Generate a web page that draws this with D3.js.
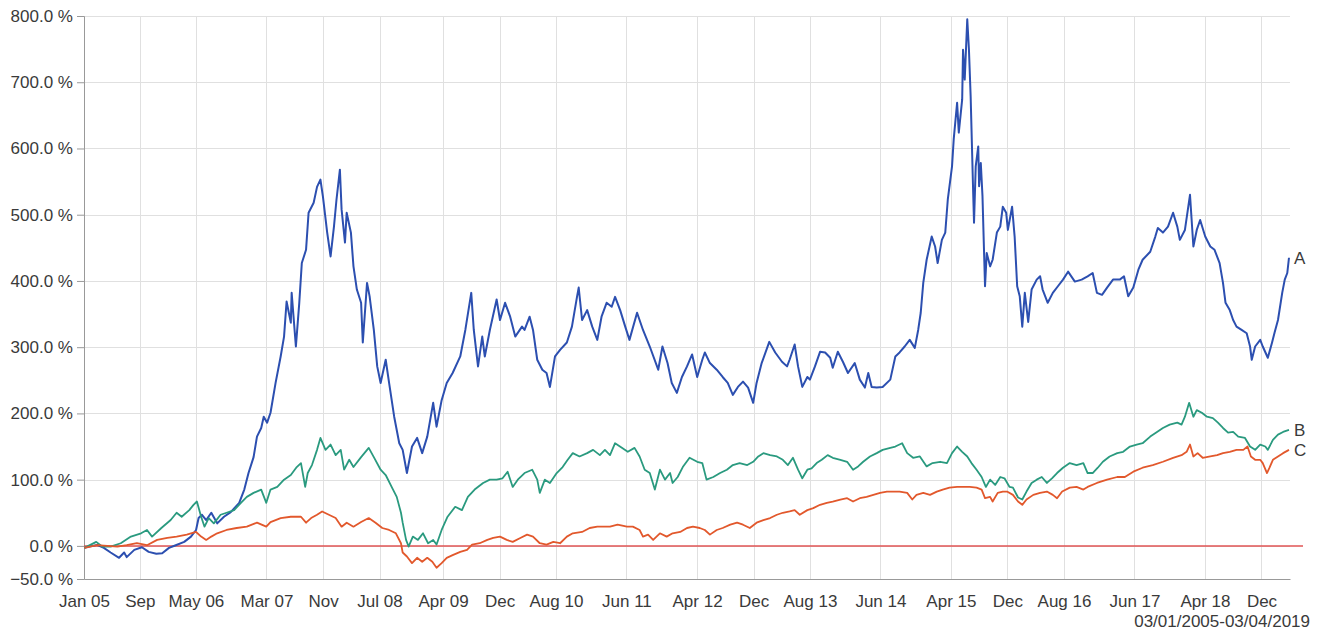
<!DOCTYPE html>
<html><head><meta charset="utf-8">
<script src="https://cdn.jsdelivr.net/npm/d3@7"></script>
<style>
html,body{margin:0;padding:0;background:#fff;}
svg{display:block;font-family:"Liberation Sans",Arial,sans-serif;}
</style></head><body>
<svg id="chart" width="1324" height="637"></svg>
<script>
// ---- DATA (time as decimal years, values in %) ----
const aTimes = [2005.01,2005.16,2005.24,2005.32,2005.42,2005.48,2005.51,2005.60,2005.69,2005.77,2005.86,2005.93,2006.01,2006.09,2006.19,2006.27,2006.33,2006.36,2006.40,2006.45,2006.51,2006.58,2006.66,2006.74,2006.84,2006.90,2006.95,2007.01,2007.05,2007.10,2007.13,2007.17,2007.21,2007.27,2007.33,2007.37,2007.40,2007.45,2007.46,2007.51,2007.55,2007.58,2007.63,2007.66,2007.72,2007.76,2007.80,2007.83,2007.88,2007.92,2007.96,2007.99,2008.03,2008.05,2008.09,2008.11,2008.16,2008.19,2008.23,2008.28,2008.30,2008.35,2008.38,2008.43,2008.47,2008.51,2008.57,2008.61,2008.67,2008.73,2008.77,2008.82,2008.88,2008.94,2009.00,2009.06,2009.13,2009.17,2009.23,2009.29,2009.36,2009.45,2009.51,2009.58,2009.61,2009.66,2009.71,2009.74,2009.80,2009.88,2009.92,2009.98,2010.04,2010.10,2010.18,2010.21,2010.27,2010.31,2010.36,2010.42,2010.47,2010.51,2010.57,2010.63,2010.71,2010.77,2010.83,2010.85,2010.89,2010.95,2011.01,2011.07,2011.12,2011.18,2011.24,2011.28,2011.34,2011.40,2011.45,2011.54,2011.61,2011.69,2011.79,2011.84,2011.90,2011.95,2012.01,2012.07,2012.13,2012.19,2012.25,2012.31,2012.34,2012.40,2012.48,2012.55,2012.61,2012.67,2012.73,2012.79,2012.85,2012.91,2012.95,2013.01,2013.10,2013.17,2013.25,2013.31,2013.34,2013.40,2013.44,2013.49,2013.55,2013.58,2013.64,2013.70,2013.76,2013.82,2013.85,2013.91,2013.97,2014.03,2014.11,2014.17,2014.23,2014.27,2014.31,2014.37,2014.44,2014.53,2014.59,2014.64,2014.70,2014.76,2014.82,2014.86,2014.89,2014.92,2014.96,2015.02,2015.06,2015.09,2015.14,2015.18,2015.21,2015.26,2015.28,2015.32,2015.34,2015.38,2015.39,2015.41,2015.44,2015.46,2015.48,2015.51,2015.52,2015.54,2015.57,2015.58,2015.60,2015.62,2015.65,2015.67,2015.71,2015.74,2015.79,2015.83,2015.86,2015.90,2015.92,2015.97,2016.00,2016.03,2016.06,2016.09,2016.12,2016.16,2016.20,2016.26,2016.30,2016.33,2016.39,2016.45,2016.51,2016.57,2016.63,2016.71,2016.79,2016.86,2016.92,2016.97,2017.03,2017.09,2017.16,2017.24,2017.29,2017.34,2017.40,2017.46,2017.51,2017.60,2017.66,2017.69,2017.75,2017.81,2017.87,2017.92,2017.95,2018.01,2018.07,2018.11,2018.15,2018.19,2018.25,2018.31,2018.36,2018.42,2018.46,2018.49,2018.54,2018.58,2018.62,2018.68,2018.74,2018.78,2018.80,2018.84,2018.90,2018.93,2018.99,2019.04,2019.07,2019.11,2019.16,2019.19,2019.22,2019.24];
const aValues = [-3,1.5,-3,-10,-18,-10,-17,-6,-2,-9,-12,-11,-3,1,6,14,24,42,47,39,50,34,44,51,65,85,110,134,165,178,195,186,201,246,286,316,369,337,382,301,367,427,447,503,518,542,553,527,473,437,482,523,568,508,458,503,473,422,387,367,307,397,377,326,271,246,281,246,195,155,145,110,150,163,140,165,216,180,220,246,261,286,326,382,326,271,316,286,326,372,341,367,346,316,331,326,346,326,281,266,261,240,286,296,307,331,376,390,341,356,331,311,346,367,361,376,356,331,311,352,326,301,266,301,276,246,231,255,271,289,255,281,292,276,266,255,246,228,240,248,239,216,246,276,308,292,278,271,281,304,271,240,255,251,271,293,292,284,269,293,278,261,276,251,239,261,240,239,240,251,286,292,301,311,299,326,352,397,432,467,452,427,462,473,523,573,614,669,624,674,749,704,795,749,679,533,488,573,603,543,578,528,392,442,422,432,473,482,512,503,477,512,467,392,377,331,382,338,387,402,407,387,367,382,392,402,414,399,402,407,412,382,379,390,402,402,407,377,390,417,432,444,467,480,473,482,503,482,462,477,530,452,477,492,467,452,447,427,397,367,356,341,331,326,321,301,281,301,311,301,284,307,322,341,382,402,412,435];

const bTimes = [2005.01,2005.15,2005.22,2005.32,2005.44,2005.56,2005.68,2005.75,2005.81,2005.92,2006.03,2006.10,2006.16,2006.25,2006.30,2006.34,2006.39,2006.43,2006.48,2006.54,2006.62,2006.69,2006.78,2006.86,2006.93,2007.01,2007.10,2007.16,2007.21,2007.29,2007.37,2007.45,2007.52,2007.57,2007.62,2007.65,2007.70,2007.76,2007.80,2007.86,2007.92,2007.98,2008.04,2008.08,2008.14,2008.19,2008.28,2008.37,2008.43,2008.51,2008.57,2008.64,2008.70,2008.75,2008.77,2008.81,2008.84,2008.89,2008.95,2009.01,2009.07,2009.13,2009.17,2009.23,2009.30,2009.39,2009.47,2009.54,2009.62,2009.72,2009.80,2009.88,2009.95,2010.01,2010.07,2010.13,2010.21,2010.30,2010.36,2010.39,2010.45,2010.51,2010.59,2010.66,2010.72,2010.78,2010.86,2010.95,2011.02,2011.10,2011.16,2011.22,2011.28,2011.36,2011.43,2011.51,2011.57,2011.63,2011.69,2011.75,2011.81,2011.87,2011.93,2011.96,2012.02,2012.08,2012.16,2012.25,2012.31,2012.36,2012.44,2012.52,2012.60,2012.67,2012.75,2012.84,2012.91,2012.97,2013.03,2013.11,2013.19,2013.26,2013.32,2013.38,2013.44,2013.49,2013.55,2013.60,2013.66,2013.72,2013.79,2013.85,2013.94,2014.02,2014.09,2014.15,2014.21,2014.29,2014.37,2014.44,2014.53,2014.59,2014.67,2014.73,2014.80,2014.88,2014.96,2015.03,2015.12,2015.20,2015.26,2015.32,2015.38,2015.44,2015.49,2015.55,2015.61,2015.66,2015.71,2015.77,2015.83,2015.88,2015.94,2015.98,2016.04,2016.09,2016.14,2016.20,2016.26,2016.32,2016.38,2016.44,2016.50,2016.57,2016.65,2016.73,2016.81,2016.86,2016.92,2016.98,2017.04,2017.12,2017.21,2017.28,2017.36,2017.44,2017.51,2017.60,2017.68,2017.75,2017.83,2017.92,2017.97,2018.01,2018.06,2018.11,2018.15,2018.21,2018.27,2018.34,2018.40,2018.46,2018.52,2018.58,2018.64,2018.72,2018.78,2018.84,2018.90,2018.96,2018.99,2019.05,2019.11,2019.17,2019.24];
const bValues = [-3,6,-1,-1,4,14,19,24,14,27,39,50,44,54,62,67,44,29,42,34,47,50,54,65,74,80,85,65,85,89,100,107,119,125,89,110,122,145,163,145,153,137,145,115,130,119,134,148,134,115,107,89,74,50,35,9,-1,14,9,19,4,9,2,24,44,59,54,74,85,95,100,100,102,112,89,100,110,115,100,80,100,95,110,119,130,140,135,140,145,137,145,137,155,148,142,148,135,115,110,85,115,100,110,95,104,119,133,127,125,100,104,110,115,122,125,122,127,135,140,137,135,130,122,133,115,102,115,117,125,130,137,133,130,127,115,120,127,135,140,145,148,150,155,140,133,135,120,125,127,125,140,150,142,135,125,115,104,89,100,92,104,102,89,88,73,70,82,95,100,104,95,102,110,118,125,122,125,110,110,118,127,135,140,142,150,153,155,165,172,178,183,186,183,195,216,195,205,201,195,193,186,178,171,172,165,163,150,145,153,150,145,160,168,172,175];

const cTimes = [2005.01,2005.16,2005.28,2005.40,2005.51,2005.63,2005.75,2005.87,2005.99,2006.10,2006.22,2006.33,2006.39,2006.45,2006.51,2006.58,2006.69,2006.81,2006.93,2007.05,2007.16,2007.21,2007.33,2007.45,2007.57,2007.63,2007.69,2007.76,2007.82,2007.90,2007.98,2008.05,2008.11,2008.19,2008.28,2008.37,2008.45,2008.53,2008.61,2008.69,2008.75,2008.77,2008.82,2008.88,2008.94,2009.00,2009.06,2009.12,2009.17,2009.23,2009.29,2009.36,2009.45,2009.53,2009.59,2009.68,2009.77,2009.84,2009.92,2010.00,2010.07,2010.16,2010.24,2010.31,2010.39,2010.47,2010.55,2010.63,2010.71,2010.78,2010.89,2010.98,2011.07,2011.14,2011.22,2011.31,2011.42,2011.49,2011.57,2011.61,2011.67,2011.73,2011.81,2011.89,2011.96,2012.05,2012.13,2012.20,2012.28,2012.34,2012.40,2012.48,2012.55,2012.64,2012.72,2012.79,2012.87,2012.95,2013.03,2013.11,2013.19,2013.26,2013.34,2013.40,2013.46,2013.55,2013.62,2013.70,2013.78,2013.85,2013.94,2014.02,2014.09,2014.17,2014.25,2014.33,2014.41,2014.49,2014.56,2014.64,2014.73,2014.79,2014.84,2014.92,2015.00,2015.08,2015.15,2015.23,2015.32,2015.39,2015.47,2015.55,2015.61,2015.65,2015.71,2015.74,2015.80,2015.86,2015.91,2015.98,2016.04,2016.09,2016.14,2016.22,2016.30,2016.38,2016.45,2016.50,2016.56,2016.65,2016.73,2016.81,2016.86,2016.97,2017.09,2017.21,2017.30,2017.40,2017.51,2017.63,2017.75,2017.87,2017.97,2018.03,2018.07,2018.11,2018.16,2018.22,2018.31,2018.39,2018.46,2018.54,2018.62,2018.70,2018.75,2018.79,2018.84,2018.90,2018.93,2018.98,2019.01,2019.05,2019.11,2019.17,2019.24];
const cValues = [-3,1,0,-1,1,4,1,9,12,14,17,21,14,9,14,19,24,27,29,35,29,36,42,44,44,35,42,47,52,47,42,29,35,29,36,42,35,27,24,19,4,-10,-16,-26,-18,-24,-18,-24,-33,-26,-18,-14,-9,-6,2,4,9,12,14,9,6,12,17,14,4,2,6,4,14,19,21,27,29,29,29,32,29,29,24,14,17,9,19,14,19,21,27,29,27,24,17,24,27,32,35,32,27,35,39,42,47,50,52,54,47,54,57,62,65,67,70,72,67,72,74,77,80,82,82,82,80,70,77,80,77,82,85,88,89,89,89,88,85,72,74,67,80,82,82,77,67,62,70,77,80,82,77,72,82,88,89,85,89,95,100,104,104,112,118,122,127,133,137,142,153,135,140,133,135,137,140,142,145,145,150,135,130,130,125,110,118,130,135,140,145];

const seriesNames = ["A", "B", "C"];
const seriesColors = ["#2c4fb0", "#2a9a7f", "#e2582c"];

const yTicks = [-50, 0, 100, 200, 300, 400, 500, 600, 700, 800];
const xTickDates = ["2005-01-03","2005-09-01","2006-05-01","2007-03-01","2007-11-01","2008-07-01","2009-04-01","2009-12-01","2010-08-01","2011-06-01","2012-04-01","2012-12-01","2013-08-01","2014-06-01","2015-04-01","2015-12-01","2016-08-01","2017-06-01","2018-04-01","2018-12-01"];
const xTickLabels = ["Jan 05","Sep","May 06","Mar 07","Nov","Jul 08","Apr 09","Dec","Aug 10","Jun 11","Apr 12","Dec","Aug 13","Jun 14","Apr 15","Dec","Aug 16","Jun 17","Apr 18","Dec"];
const startDate = "2005-01-03", endDate = "2019-04-03";
const periodLabel = "03/01/2005-03/04/2019";

(function () {
function decYear(v) {
  const yr = Math.floor(v);
  const s = new Date(yr, 0, 1).getTime(), e = new Date(yr + 1, 0, 1).getTime();
  return new Date(s + (v - yr) * (e - s));
}
const parse = d3.timeParse("%Y-%m-%d");

const svg = d3.select("#chart");
const pl = 84, pr = 1290, pt = 16, pb = 579;
const font = "'Liberation Sans', Arial, sans-serif";
const fs = "17px";

const x = d3.scaleTime().domain([parse(startDate), parse(endDate)]).range([pl, pr]);
const y = d3.scaleLinear().domain([-50, 800]).range([pb, pt]);

const tickDates = xTickDates.map(parse);

// grid
svg.append("g").selectAll("line").data(tickDates.slice(1)).join("line")
  .attr("x1", d => Math.round(x(d)) + 0.5).attr("x2", d => Math.round(x(d)) + 0.5).attr("y1", pt).attr("y2", pb)
  .attr("stroke", "#e0e0e0").attr("stroke-width", 1);
svg.append("g").selectAll("line").data(yTicks.filter(v => v > -50)).join("line")
  .attr("x1", pl).attr("x2", pr).attr("y1", d => Math.round(y(d)) + 0.5).attr("y2", d => Math.round(y(d)) + 0.5)
  .attr("stroke", "#e0e0e0").attr("stroke-width", 1);

// axes
const yAxis = d3.axisLeft(y).tickValues(yTicks).tickSize(7).tickPadding(4)
  .tickFormat(d => d3.format(".1f")(d) + " %");
const gy = svg.append("g").attr("transform", `translate(${pl},0)`).call(yAxis);
gy.select(".domain").attr("stroke", "#999");
gy.selectAll(".tick line").attr("stroke", "#999");
gy.selectAll(".tick text").attr("fill", "#3a3a3a").style("font-size", fs).style("font-family", font);

const xAxis = d3.axisBottom(x).tickValues(tickDates).tickSize(0).tickPadding(16)
  .tickFormat((d, i) => xTickLabels[i]);
const gx = svg.append("g").attr("transform", `translate(0,${pb})`).call(xAxis);
gx.select(".domain").attr("stroke", "#999");
gx.selectAll(".tick text").attr("fill", "#3a3a3a").style("font-size", fs).style("font-family", font);

// zero line
svg.append("line").attr("x1", pl).attr("x2", pr + 13).attr("y1", y(0)).attr("y2", y(0))
  .attr("stroke", "#e05555").attr("stroke-width", 1.5);

// series
const series = [
  {name: seriesNames[0], color: seriesColors[0], t: aTimes, v: aValues, w: 2},
  {name: seriesNames[1], color: seriesColors[1], t: bTimes, v: bValues, w: 1.8},
  {name: seriesNames[2], color: seriesColors[2], t: cTimes, v: cValues, w: 1.8}
];
const line = d3.line().x(d => x(d[0])).y(d => y(d[1]));
series.forEach(s => {
  const pts = s.t.map((t, i) => [decYear(t), s.v[i]]);
  svg.append("path").attr("d", line(pts)).attr("fill", "none")
    .attr("stroke", s.color).attr("stroke-width", s.w).attr("stroke-linejoin", "round");
  const last = pts[pts.length - 1];
  svg.append("text").attr("x", x(last[0]) + 5).attr("y", y(last[1]) + 6)
    .attr("fill", "#3a3a3a").style("font-size", fs).style("font-family", font).text(s.name);
});

// period label
svg.append("text").attr("x", 1310).attr("y", 627).attr("text-anchor", "end")
  .attr("fill", "#3a3a3a").style("font-size", fs).style("font-family", font).text(periodLabel);
})();
</script>
</body></html>
